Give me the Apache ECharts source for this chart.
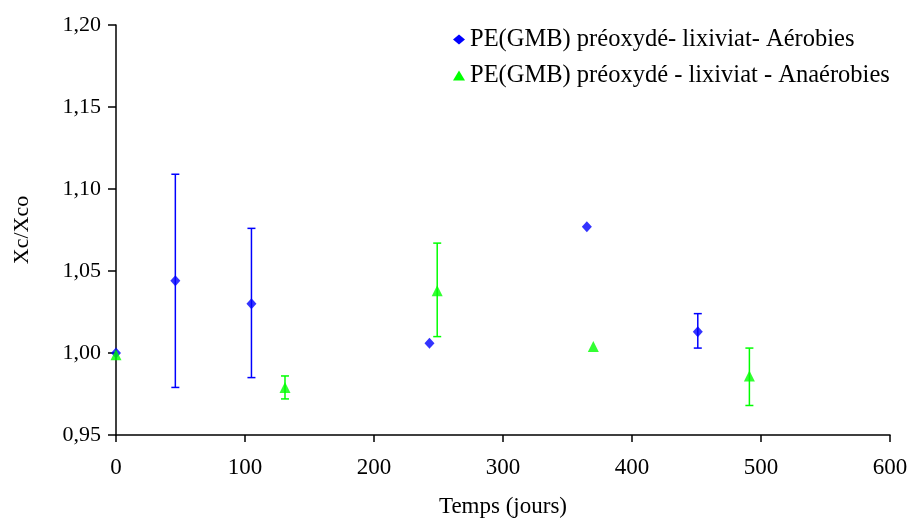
<!DOCTYPE html>
<html><head><meta charset="utf-8">
<script src="https://cdn.jsdelivr.net/npm/echarts@6/dist/echarts.min.js"></script>
<style>html,body{margin:0;padding:0;background:#fff}#c{width:914px;height:520px}</style>
</head><body><div id="c"></div>
<script>
const seriesNames = ['PE(GMB) préoxydé- lixiviat- Aérobies', 'PE(GMB) préoxydé - lixiviat - Anaérobies'];
const aeroX = [0, 46, 105, 243, 365, 451];
const aeroY = [1.000, 1.044, 1.030, 1.006, 1.077, 1.013];
const aeroLow = [null, 0.979, 0.985, null, null, 1.003];
const aeroHigh = [null, 1.109, 1.076, null, null, 1.024];
const anaX = [0, 131, 249, 370, 491];
const anaY = [0.999, 0.979, 1.038, 1.004, 0.986];
const anaLow = [null, 0.972, 1.010, null, 0.968];
const anaHigh = [null, 0.986, 1.067, null, 1.003];
const xTicks = [0, 100, 200, 300, 400, 500, 600];
const yTicks = [0.95, 1.00, 1.05, 1.10, 1.15, 1.20];

const FONT = "'Liberation Serif', 'Times New Roman', serif";
const BLUE = '#0000ff', GREEN = '#00ff00';

function errData(xs, lo, hi) {
  const out = [];
  xs.forEach((x, i) => { if (lo[i] != null) out.push([x, lo[i], hi[i]]); });
  return out;
}
function errSeries(name, data, color) {
  return {
    type: 'custom', name: name, data: data, z: 1,
    renderItem: function (params, api) {
      const x = api.value(0);
      const lo = api.coord([x, api.value(1)]);
      const hi = api.coord([x, api.value(2)]);
      const w = 4;
      const st = { stroke: color, lineWidth: 1.5 };
      return { type: 'group', children: [
        { type: 'line', shape: { x1: lo[0], y1: lo[1], x2: hi[0], y2: hi[1] }, style: st },
        { type: 'line', shape: { x1: lo[0] - w, y1: lo[1], x2: lo[0] + w, y2: lo[1] }, style: st },
        { type: 'line', shape: { x1: hi[0] - w, y1: hi[1], x2: hi[0] + w, y2: hi[1] }, style: st }
      ]};
    },
    encode: { x: 0, y: [1, 2] }
  };
}

const chart = echarts.init(document.getElementById('c'), null, { renderer: 'canvas' });
chart.setOption({
  animation: false,
  backgroundColor: '#fff',
  textStyle: { fontFamily: FONT, color: '#000' },
  grid: { left: 116, right: 24, top: 25, bottom: 85, outerBoundsMode: 'none' },
  legend: {
    orient: 'vertical', left: 448, top: 22, itemGap: 11,
    itemWidth: 12, itemHeight: 10,
    textStyle: { fontFamily: FONT, fontSize: 24.5, color: '#000' },
    data: [
      { name: seriesNames[0], icon: 'diamond', itemStyle: { color: BLUE } },
      { name: seriesNames[1], icon: 'triangle', itemStyle: { color: GREEN } }
    ]
  },
  xAxis: {
    type: 'value', min: xTicks[0], max: xTicks[xTicks.length - 1], interval: 100,
    name: 'Temps (jours)', nameLocation: 'middle', nameGap: 60,
    nameTextStyle: { fontFamily: FONT, fontSize: 23, color: '#000' },
    axisLine: { lineStyle: { color: '#000', width: 1.5 } },
    axisTick: { show: true, length: 7, lineStyle: { color: '#000', width: 1.5 } },
    axisLabel: { fontFamily: FONT, fontSize: 23, color: '#000', margin: 21 },
    splitLine: { show: false }
  },
  yAxis: {
    type: 'value', min: yTicks[0], max: yTicks[yTicks.length - 1], interval: 0.05,
    name: 'Xc/Xco', nameLocation: 'middle', nameGap: 83, nameRotate: 90,
    nameTextStyle: { fontFamily: FONT, fontSize: 22, color: '#000' },
    axisLine: { show: true, lineStyle: { color: '#000', width: 1.5 } },
    axisTick: { show: true, length: 8, lineStyle: { color: '#000', width: 1.5 } },
    axisLabel: { fontFamily: FONT, fontSize: 22, color: '#000', margin: 15,
      formatter: v => v.toFixed(2).replace('.', ',') },
    splitLine: { show: false }
  },
  series: [
    errSeries(seriesNames[0], errData(aeroX, aeroLow, aeroHigh), BLUE),
    errSeries(seriesNames[1], errData(anaX, anaLow, anaHigh), GREEN),
    { type: 'scatter', name: seriesNames[0], symbol: 'diamond', symbolSize: [10, 11], z: 3,
      itemStyle: { color: BLUE }, data: aeroX.map((x, i) => [x, aeroY[i]]) },
    { type: 'scatter', name: seriesNames[1], symbol: 'triangle', symbolSize: [11, 11], z: 4,
      itemStyle: { color: GREEN }, data: anaX.map((x, i) => [x, anaY[i]]) }
  ]
});
</script></body></html>
